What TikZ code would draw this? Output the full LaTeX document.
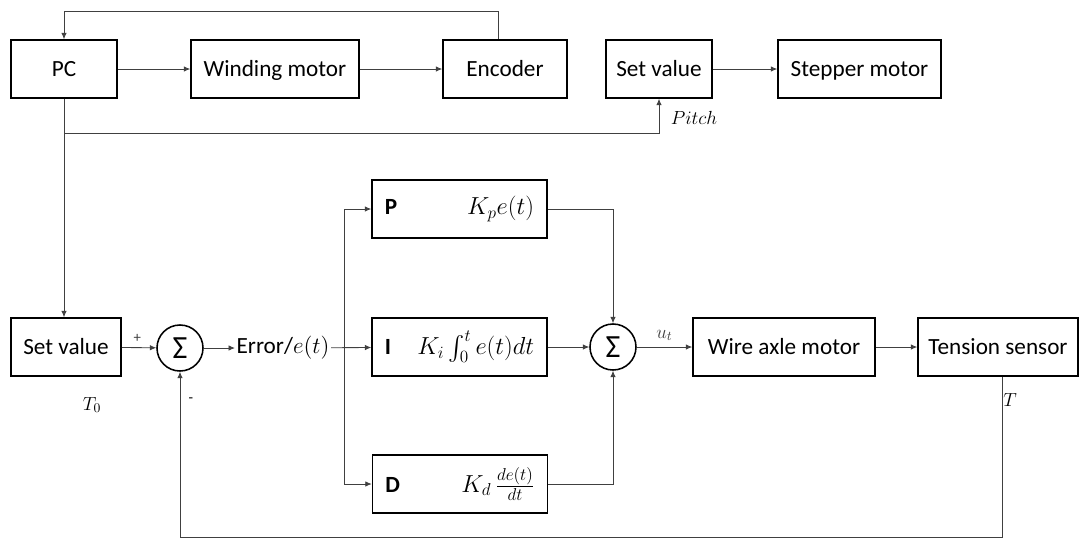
\RequirePackage{fix-cm}
\documentclass[tikz,border=0pt]{standalone}
\usepackage{amsmath}
\usepackage{fontspec}
\setmainfont{Carlito}
\usetikzlibrary{arrows.meta,calc}
\tikzset{
  frame/.style={draw,line width=1.1pt,minimum height=1.45cm,inner sep=0pt,align=center,font=\fontsize{16.5}{19.8}\selectfont},
  box/.style={frame,text height=13pt,text depth=2.4pt},
  pid/.style={frame,minimum width=4.375cm,font=\fontsize{17.5}{21}\selectfont},
  sumc/.style={draw,circle,line width=1.1pt,minimum size=1.15cm,inner sep=0pt,font=\fontsize{23}{23}\selectfont},
  arr/.style={-{Latex[length=1.6mm,width=1.4mm]},line width=0.6pt,black!75},
  lbl/.style={font=\fontsize{13.5}{15}\selectfont,inner sep=1pt},
  sgn/.style={font=\fontsize{10.5}{11}\selectfont,inner sep=1pt}
}
\newcommand{\pidtext}[2]{\makebox[3.725cm]{\textbf{\fontsize{16.5}{19.8}\selectfont#1}\hfill#2}}

\begin{document}
\begin{tikzpicture}[x=0.025cm,y=-0.025cm]
\useasboundingbox (0,0) rectangle (1080,541);
% upper row
\node[box,minimum width=2.65cm] (pc) at (64,69) {PC};
\node[box,minimum width=4.2cm] (wind) at (275,69) {Winding motor};
\node[box,minimum width=3.1cm] (enc) at (505,69) {Encoder};
\node[box,minimum width=2.65cm] (setp) at (659,69) {Set value};
\node[box,minimum width=4.075cm] (step) at (859.5,69) {Stepper motor};
% lower loop
\node[box,minimum width=2.75cm] (setT) at (66,347) {Set value};
\node[sumc] (sum1) at (180,348) {Σ};
\node[font=\fontsize{16.5}{19.8}\selectfont,inner sep=1pt] (err) at (283,348) {Error/$e(t)$};
\node[pid] (P) at (459.5,209) {\pidtext{P}{$K_pe(t)$}};
\node[pid] (I) at (459.5,347) {\pidtext{I}{$K_i\int_0^t e(t)dt$}};
\node[pid] (D) at (460,484) {\pidtext{D}{$K_d\,\frac{de(t)}{dt}$}};
\node[sumc] (sum2) at (613,347) {Σ};
\node[box,minimum width=4.55cm] (wax) at (784,347) {Wire axle motor};
\node[box,minimum width=4.0cm] (tens) at (998,347) {Tension sensor};
\coordinate (pj) at (64,133);
\coordinate (br) at (344,347);

\draw[arr] (pc) -- (wind);
\draw[arr] (wind) -- (enc);
\draw[arr] ([xshift=-0.175cm]enc.north) |- ($(pc.north)+(0,-28)$) -| (pc.north);
\draw[arr] (setp) -- (step);
\draw[arr] (pc.south) -- (pc.south |- setT.north);
\draw[arr] (pj) -| (setp.south);
\node[lbl] (pitch) at (694,118) {$Pitch$};

\draw[arr] (setT) -- (sum1) node[sgn,pos=0.45,above=2pt] (plus) {+};
\draw[arr] (sum1) -- (err);
\draw[arr] (err) -- (I);
\draw[arr] (br) |- (P.west);
\draw[arr] (br) |- (D.west);
\draw[arr] (P.east) -| (sum2.north);
\draw[arr] (I) -- (sum2);
\draw[arr] (D.east) -| (sum2.south);
\draw[arr] (sum2) -- (wax) node[lbl,midway,above=3pt] (ut) {$u_t$};
\draw[arr] (wax) -- (tens);
\draw[arr] ([xshift=0.1cm]tens.south) -- ++(0,161) -| (sum1.south);
\node[lbl] (T0) at (92,405) {$T_0$};
\node[lbl] (Tl) at (1010,400) {$T$};
\node[sgn] (minus) at (191,400) {-};
\end{tikzpicture}
\end{document}
